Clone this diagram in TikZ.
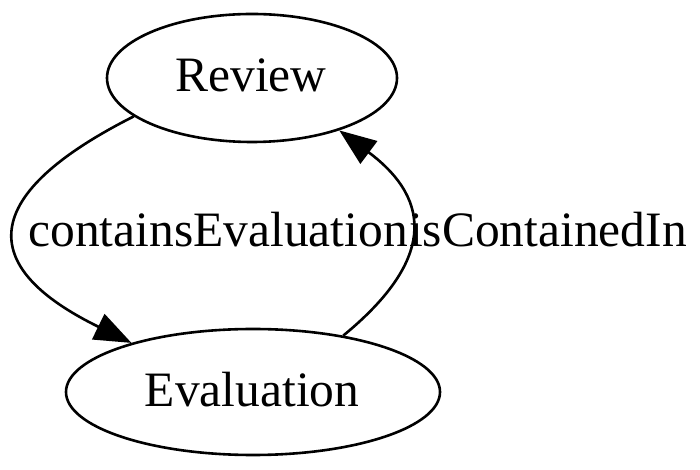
\documentclass[tikz,border=0pt]{standalone}
\usepackage{fontspec}
\setmainfont{Liberation Serif}
\usepackage{tikz}
\usetikzlibrary{shapes.geometric, arrows.meta, positioning, calc}

\begin{document}
\begin{tikzpicture}[x=1pt, y=1pt,
		state/.style={draw, ellipse, line width=2.6pt, inner sep=0pt},
		rel/.style={line width=2.6pt, -{Triangle[length=37pt, width=28pt]}},
		lbl/.style={anchor=base, inner sep=0pt, font=\fontsize{49.5}{59}\selectfont}]
		\useasboundingbox (0,0) rectangle (700,470);
		\pgfmathsetmacro{\revw}{290}
		\pgfmathsetmacro{\revh}{128}
		\pgfmathsetmacro{\evaw}{374}
		\pgfmathsetmacro{\evah}{126}
		
		\node[state, minimum width=\revw, minimum height=\revh] (review) at (252,392) {};
		\node[lbl] (reviewtxt) at (251,378) {Review};
		\node[state, minimum width=\evaw, minimum height=\evah] (evaluation) at (253,78) {};
		\node[lbl] (evaluationtxt) at (252,63) {Evaluation};
		
		\draw[rel] (review.198) .. controls (-20,276) and (-26,204) .. (evaluation.158.7);
		\draw[rel] (evaluation.32.6) .. controls (433,208) and (434,269) .. (review.329.5);
		
		\node[lbl] (contains) at (218,223) {containsEvaluation};
		\node[lbl] (contained) at (548,223) {isContainedIn};
		\end{tikzpicture}
\end{document}
